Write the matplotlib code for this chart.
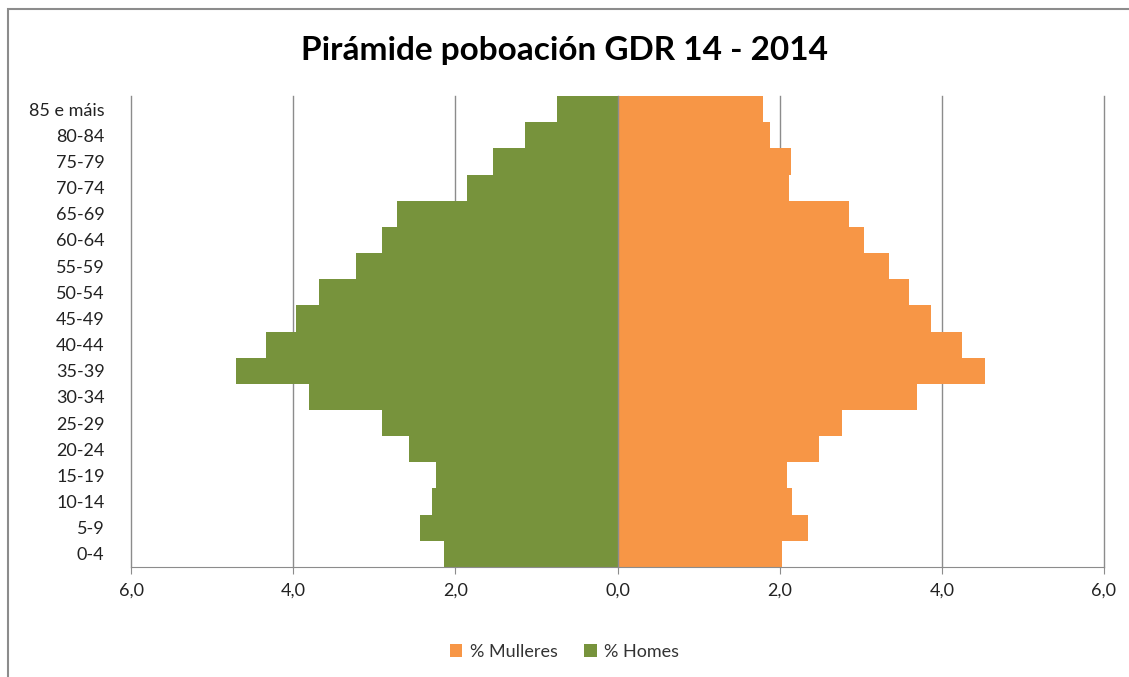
import matplotlib.pyplot as plt
from matplotlib.patches import Rectangle
from matplotlib.ticker import FuncFormatter

plt.rcParams['font.family'] = ['Lato', 'DejaVu Sans']

# datos (porcentaxes por grupo de idade)
grupos = ['0-4', '5-9', '10-14', '15-19', '20-24', '25-29', '30-34', '35-39',
          '40-44', '45-49', '50-54', '55-59', '60-64', '65-69', '70-74',
          '75-79', '80-84', '85 e máis']
mulleres = [2.03, 2.35, 2.15, 2.09, 2.49, 2.77, 3.69, 4.53,
            4.25, 3.87, 3.59, 3.35, 3.04, 2.85, 2.11, 2.14, 1.88, 1.79]
homes = [2.14, 2.43, 2.29, 2.24, 2.57, 2.90, 3.81, 4.70,
         4.33, 3.96, 3.68, 3.23, 2.91, 2.72, 1.86, 1.54, 1.14, 0.75]

verde = '#77933C'
laranxa = '#F79646'

fig = plt.figure(figsize=(11.29, 6.77), dpi=100)
ax = fig.add_axes([131 / 1129, 110 / 677, 973 / 1129, 471 / 677])

y = range(len(grupos))
ax.barh(y, mulleres, height=1.0, color=laranxa, label='% Mulleres', zorder=2)
ax.barh(y, [-v for v in homes], height=1.0, color=verde, label='% Homes', zorder=2)

ax.set_xlim(-6, 6)
ax.set_ylim(-0.5, len(grupos) - 0.5)
ax.set_xticks([-6, -4, -2, 0, 2, 4, 6])
ax.xaxis.set_major_formatter(FuncFormatter(lambda v, p: f'{abs(v):.1f}'.replace('.', ',')))
ax.set_yticks(list(y))
ax.set_yticklabels(grupos)

ax.grid(axis='x', color='#8c8c8c', linewidth=1, zorder=0)
for gl in ax.get_xgridlines():
    gl.set_clip_on(False)
ax.axvline(0, color='#8c8c8c', linewidth=1, zorder=3)
for s in ['top', 'right', 'left']:
    ax.spines[s].set_visible(False)
ax.spines['bottom'].set_color('#8c8c8c')
ax.tick_params(axis='x', colors='#8c8c8c', length=5, labelsize=13, labelcolor='#222222', pad=6)
ax.tick_params(axis='y', length=0, labelsize=13, labelcolor='#222222', pad=19)

fig.text(0.5, 0.926, 'Pirámide poboación GDR 14 - 2014', ha='center', va='center',
         fontsize=24, fontweight='bold', color='black')

h, l = ax.get_legend_handles_labels()
fig.legend(h, l, loc='center', bbox_to_anchor=(0.5, 0.037), ncol=2, frameon=False,
           fontsize=13, handlelength=0.7, handleheight=0.7, columnspacing=1.5,
           handletextpad=0.4, labelcolor='#333333')

# marco exterior do grafico
fig.patches.append(Rectangle((8 / 1129, -0.01), 1.1, 1 - 9 / 677 + 0.01, transform=fig.transFigure,
                             fill=False, edgecolor='#8c8c8c', linewidth=1.5))

fig.savefig('out.png', dpi=100)
